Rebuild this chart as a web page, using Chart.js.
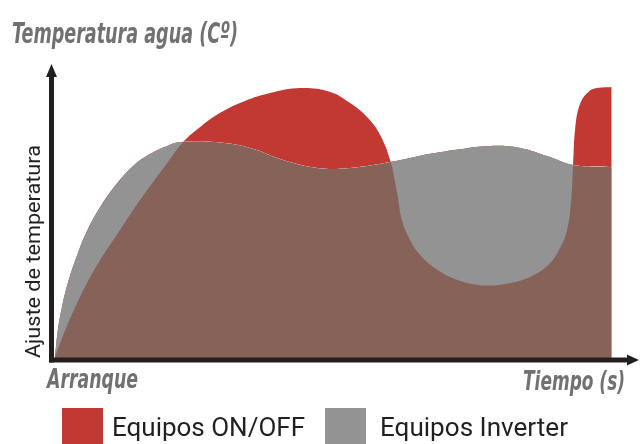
<!DOCTYPE html>
<html>
<head>
<meta charset="utf-8">
<script src="https://cdn.jsdelivr.net/npm/chart.js@4/dist/chart.umd.min.js"></script>
<style>
  html, body { margin: 0; padding: 0; background: #ffffff; }
  #wrap { position: relative; width: 640px; height: 444px; }
</style>
</head>
<body>
<div id="wrap"><canvas id="c" width="640" height="444"></canvas></div>
<script>
// ---- data (x: time 0..100, y: temperature 0..100, arbitrary units) ----
const seriesNames = ['Equipos ON/OFF', 'Equipos Inverter'];
const titleText = 'Temperatura agua (Cº)';
const yAxisText = 'Ajuste de temperatura';
const xStartText = 'Arranque';
const xEndText = 'Tiempo (s)';

const timeOnOff = [0.5, 2.2, 3.9, 5.6, 8.2, 11.1, 13.8, 16.7, 19.6, 22.3, 25.2, 28.6, 32.8, 37.1, 42.2, 47.3, 50.7, 53.7, 55.8, 57.5, 58.7, 59.5, 60.9, 62.6, 65.1, 68.5, 72.8, 77.0, 81.3, 84.4, 86.4, 87.6, 88.3, 88.6, 89.0, 89.8, 91.2, 92.7, 95.2];
const tempOnOff = [0.3, 9.2, 17.0, 24.1, 33.2, 42.0, 50.2, 58.3, 66.1, 73.2, 78.3, 83.1, 87.1, 89.8, 91.5, 90.2, 86.4, 81.4, 75.6, 67.1, 55.9, 46.8, 40.0, 34.9, 30.5, 26.8, 24.7, 25.1, 27.5, 31.5, 37.3, 43.4, 53.6, 64.7, 78.3, 86.1, 90.2, 91.5, 91.9];

const timeInverter = [0.5, 1.0, 1.7, 2.7, 4.1, 5.8, 8.2, 11.1, 13.8, 16.7, 19.6, 21.8, 27.7, 33.7, 39.3, 45.1, 50.7, 57.5, 64.3, 69.4, 74.5, 79.6, 84.7, 88.6, 95.2];
const tempInverter = [0.3, 9.5, 17.3, 25.4, 33.9, 42.4, 51.2, 59.3, 65.1, 69.2, 71.9, 73.2, 73.2, 71.2, 67.1, 64.4, 64.4, 66.4, 69.2, 70.8, 71.9, 71.2, 68.1, 65.4, 64.7];

const colRed = '#c13932';
const colGray = '#929392';
const colBrown = '#876259';
const colAxis = '#231f20';
const colTitle = '#707173';

const onOffPts = timeOnOff.map((t, i) => ({ x: t, y: tempOnOff[i] }));
const inverterPts = timeInverter.map((t, i) => ({ x: t, y: tempInverter[i] }));

const condensedBold = '"DejaVu Sans Condensed", "DejaVu Sans", "Liberation Sans", sans-serif';

function fitText(ctx, text, x, y, width, font, align, color) {
  ctx.save();
  ctx.font = font;
  ctx.fillStyle = color;
  ctx.textBaseline = 'alphabetic';
  const w = ctx.measureText(text).width;
  const s = width / w;
  ctx.translate(x, y);
  ctx.scale(s, 1);
  ctx.textAlign = align;
  ctx.fillText(text, 0, 0);
  ctx.restore();
}

const decor = {
  id: 'decor',
  afterDraw(chart) {
    const ctx = chart.ctx;
    const xs = chart.scales.x, ys = chart.scales.y;
    const x0 = xs.getPixelForValue(0) - 0.5;
    const y0 = ys.getPixelForValue(0) + 2;
    ctx.save();
    ctx.fillStyle = colAxis;
    ctx.strokeStyle = colAxis;
    ctx.lineWidth = 5;
    ctx.beginPath();
    ctx.moveTo(x0, y0 + 2.5);
    ctx.lineTo(x0, 74);
    ctx.stroke();
    ctx.beginPath();
    ctx.moveTo(x0 - 2.5, y0);
    ctx.lineTo(630, y0);
    ctx.stroke();
    // arrow heads
    ctx.beginPath();
    ctx.moveTo(x0, 64);
    ctx.lineTo(x0 - 5.5, 77);
    ctx.lineTo(x0 + 5.5, 77);
    ctx.closePath();
    ctx.fill();
    ctx.beginPath();
    ctx.moveTo(639, y0);
    ctx.lineTo(627, y0 - 5.5);
    ctx.lineTo(627, y0 + 5.5);
    ctx.closePath();
    ctx.fill();
    ctx.restore();

    // texts
    fitText(ctx, titleText, 12, 43, 226, 'italic bold 29px ' + condensedBold, 'left', colTitle);
    fitText(ctx, xStartText, 47, 388, 91, 'italic bold 27px ' + condensedBold, 'left', colTitle);
    fitText(ctx, xEndText, 625, 390, 102, 'italic bold 27px ' + condensedBold, 'right', colTitle);

    ctx.save();
    ctx.translate(40, 358);
    ctx.rotate(-Math.PI / 2);
    fitText(ctx, yAxisText, 0, 0, 213, '21px Roboto', 'left', colAxis);
    ctx.restore();

    // legend
    const cols = [colRed, colGray];
    const boxX = [62, 325];
    const txtX = [112, 380];
    const txtW = [193, 188];
    seriesNames.forEach((name, i) => {
      ctx.save();
      ctx.fillStyle = cols[i];
      ctx.fillRect(boxX[i], 408, 41, 36);
      ctx.restore();
      fitText(ctx, name, txtX[i], 436, txtW[i], '26px Roboto', 'left', colAxis);
    });
  }
};

new Chart(document.getElementById('c'), {
  type: 'line',
  data: {
    datasets: [
      {
        label: seriesNames[0],
        data: onOffPts,
        borderWidth: 0,
        borderColor: 'rgba(0,0,0,0)',
        pointRadius: 0,
        tension: 0.4,
        fill: { target: 1, above: colRed, below: colGray }
      },
      {
        label: seriesNames[1],
        data: inverterPts,
        borderWidth: 0,
        borderColor: 'rgba(0,0,0,0)',
        pointRadius: 0,
        tension: 0.4,
        backgroundColor: colBrown,
        fill: 'origin'
      }
    ]
  },
  options: {
    responsive: false,
    animation: false,
    events: [],
    layout: { padding: { left: 52, right: 0, top: 63, bottom: 86 } },
    scales: {
      x: { type: 'linear', min: 0, max: 100, display: false },
      y: { type: 'linear', min: 0, max: 100, display: false }
    },
    plugins: {
      legend: { display: false },
      tooltip: { enabled: false },
      title: { display: false }
    }
  },
  plugins: [decor]
});
</script>
</body>
</html>
